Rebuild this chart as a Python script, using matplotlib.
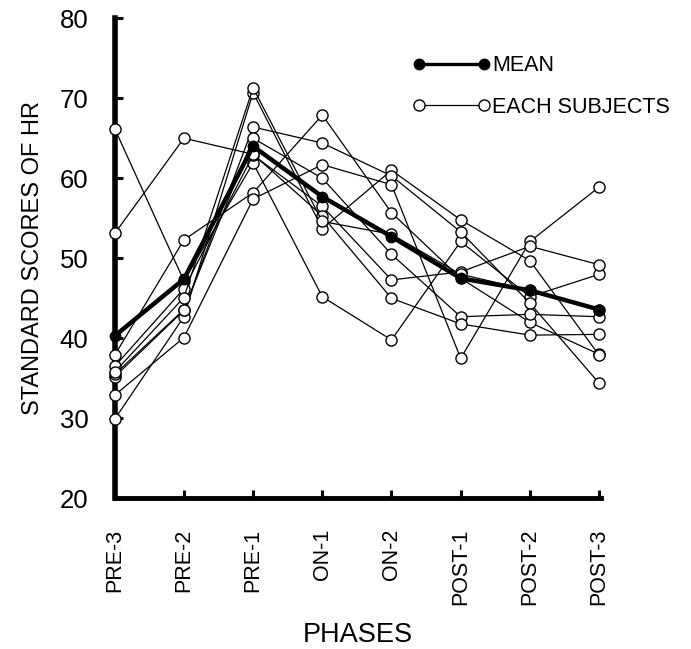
import numpy as np
import matplotlib
matplotlib.use('Agg')
from matplotlib import pyplot as plt
from matplotlib.lines import Line2D

plt.rcParams['font.family'] = ['Liberation Sans', 'DejaVu Sans']

phases = ['PRE-3', 'PRE-2', 'PRE-1', 'ON-1', 'ON-2', 'POST-1', 'POST-2', 'POST-3']
mean_hr = [40.3, 47.4, 64.0, 57.7, 52.7, 47.5, 46.0, 43.6]

# each subject, values
s1 = [37.9, 52.3, 58.2, 67.9, 55.7, 47.5, 42.0, 38.0]
s2 = [66.2, 47.2, 61.9, 45.2, 39.8, 52.1, 45.2, 48.0]
s3 = [29.9, 42.7, 70.7, 53.7, 61.0, 54.8, 49.7, 37.9]
s4 = [35.2, 43.5, 66.4, 64.4, 60.3, 53.3, 44.4, 34.4]
s5 = [32.9, 40.1, 57.4, 61.7, 59.2, 37.5, 52.1, 58.9]
s6 = [35.5, 43.6, 65.0, 60.0, 50.5, 42.7, 43.0, 42.7]
s7 = [36.5, 46.2, 62.9, 56.5, 47.3, 48.3, 51.5, 49.2]
s8 = [53.1, 65.0, 63.0, 55.3, 45.0, 41.8, 40.4, 40.5]
s9 = [35.8, 45.1, 71.3, 54.6, 53.0, 48.0, 46.0, 43.5]
subjects = [s1, s2, s3, s4, s5, s6, s7, s8, s9]

yticks = [20, 30, 40, 50, 60, 70, 80]

fig = plt.figure(figsize=(6.91, 6.49), dpi=100)
ax = fig.add_axes([0.166, 0.232, 0.704, 0.740])

x = np.arange(len(phases))
for s in subjects:
    ax.plot(x, s, '-o', color='black', lw=0.9, ms=8, mfc='white', mec='black',
            mew=1.0, zorder=3, clip_on=False)
ax.plot(x, mean_hr, '-o', color='black', lw=3.2, ms=7.5, mfc='black', mec='black',
        zorder=4, clip_on=False)

ax.set_xlim(0, 7.03)
ax.set_ylim(20, 80)
ax.set_xticks(x)
ax.set_xticklabels(phases, rotation=90, fontsize=15.5)
ax.set_yticks(yticks)
ax.set_yticklabels([str(v) for v in yticks], fontsize=18.5)

ax.spines['top'].set_visible(False)
ax.spines['right'].set_visible(False)
ax.spines['left'].set_linewidth(4)
ax.spines['bottom'].set_linewidth(3.5)
ax.tick_params(axis='y', direction='in', length=6, width=2.2, pad=19)
ax.tick_params(axis='x', direction='in', length=6, width=2.2, pad=22)

ax.set_ylabel('STANDARD SCORES OF HR', fontsize=17, labelpad=11)
ax.set_xlabel('PHASES', fontsize=19.5, labelpad=12)

h_mean = Line2D([], [], color='black', lw=2.4, marker='o', ms=7.5, mfc='black', mec='black')
h_subj = Line2D([], [], color='black', lw=0.9, marker='o', ms=8, mfc='white', mec='black')
ax.legend([h_mean, h_subj], ['MEAN', 'EACH SUBJECTS'], numpoints=2, frameon=False,
          loc='upper left', bbox_to_anchor=(0.59, 0.945), borderpad=0,
          handlelength=3.6, handletextpad=0.1, labelspacing=0.95, fontsize=15.5)

fig.savefig('out.png', dpi=100)
